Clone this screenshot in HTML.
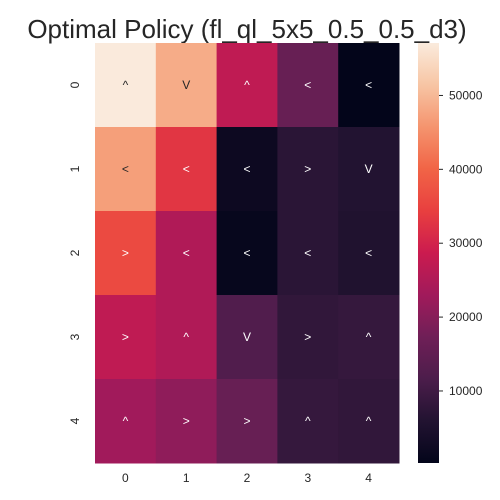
<!DOCTYPE html>
<html><head><meta charset="utf-8"><style>
html,body{margin:0;padding:0;background:#fff;}
svg{display:block;font-family:"Liberation Sans",Arial,sans-serif;}
</style></head><body>
<svg id="chart" width="500" height="500" viewBox="0 0 500 500">
<text x="247" y="38" font-size="26" text-anchor="middle" fill="#262626">Optimal Policy (fl_ql_5x5_0.5_0.5_d3)</text>
<defs><linearGradient id="cbgrad" x1="0" y1="1" x2="0" y2="0"></linearGradient></defs>
<g id="cells"></g>
<g id="xticks"></g>
<g id="yticks"></g>
<rect id="cbar" x="418" y="43" width="21" height="420" fill="url(#cbgrad)"/>
<g id="cbticks"></g>
</svg>
<script>
const rows = ["0","1","2","3","4"];
const cols = ["0","1","2","3","4"];
const values = [
  [57000, 48500, 27000, 16000, 300],
  [47000, 33000, 2000, 7000, 6000],
  [36000, 25000, 1000, 7000, 5500],
  [27000, 25000, 12500, 8000, 8500],
  [23000, 21000, 16000, 8500, 8000]
];
const actions = [
  ["^","V","^","<","<"],
  ["<","<","<",">","V"],
  [">","<","<","<","<"],
  [">","^","V",">","^"],
  ["^",">",">","^","^"]
];
const cbTicks = [10000, 20000, 30000, 40000, 50000];
const vmin = 250, vmax = 57100;

const stops = [
  [0.0,[3,5,26]],[0.1,[34,19,49]],[0.2,[76,29,75]],[0.3,[111,31,87]],
  [0.4,[161,26,91]],[0.5,[203,27,79]],[0.6,[232,63,63]],[0.7,[241,100,70]],
  [0.8,[245,148,110]],[0.9,[247,197,164]],[1.0,[250,235,221]]
];
function cmap(t){
  t=Math.max(0,Math.min(1,t));
  for(let i=1;i<stops.length;i++){
    if(t<=stops[i][0]){
      const a=stops[i-1],b=stops[i],f=(t-a[0])/(b[0]-a[0]);
      return a[1].map((v,k)=>Math.round(v+(b[1][k]-v)*f));
    }
  }
  return stops[stops.length-1][1];
}
const rgb=c=>`rgb(${c[0]},${c[1]},${c[2]})`;
const NS="http://www.w3.org/2000/svg";
const x0=95,x1=399,y0=43,y1=463;
const cw=(x1-x0)/cols.length, ch=(y1-y0)/rows.length;
const xPos=j=>x0+j*cw, yPos=i=>y0+i*ch;
const cbY=v=>463-(v-vmin)/(vmax-vmin)*420;

const grad=document.getElementById('cbgrad');
for(let k=0;k<=20;k++){const s=document.createElementNS(NS,'stop');s.setAttribute('offset',k/20);s.setAttribute('stop-color',rgb(cmap(k/20)));grad.appendChild(s);}

const cg=document.getElementById('cells');
values.forEach((row,i)=>row.forEach((v,j)=>{
  const c=cmap((v-vmin)/(vmax-vmin));
  const r=document.createElementNS(NS,'rect');
  r.setAttribute('x',xPos(j));r.setAttribute('y',yPos(i));
  r.setAttribute('width',cw+0.5);r.setAttribute('height',ch+0.5);
  r.setAttribute('fill',rgb(c));
  
  
  cg.appendChild(r);
  const lum=(0.299*c[0]+0.587*c[1]+0.114*c[2])/255;
  const t=document.createElementNS(NS,'text');
  t.setAttribute('x',xPos(j)+cw/2);t.setAttribute('y',yPos(i)+ch/2+4);
  t.setAttribute('text-anchor','middle');t.setAttribute('font-size','12');
  t.setAttribute('fill',lum>0.6?'#262626':'#ffffff');
  t.textContent=actions[i][j];
  
  
  cg.appendChild(t);
}));
const xg=document.getElementById('xticks');
cols.forEach((c,j)=>{
  const t=document.createElementNS(NS,'text');
  t.setAttribute('x',xPos(j)+cw/2);t.setAttribute('y',482);
  t.setAttribute('text-anchor','middle');t.setAttribute('font-size','12');t.setAttribute('fill','#262626');
  t.textContent=c;
  
  
  xg.appendChild(t);
});
const yg=document.getElementById('yticks');
rows.forEach((r,i)=>{
  const cy=yPos(i)+ch/2, cx=79;
  const t=document.createElementNS(NS,'text');
  t.setAttribute('x',cx);t.setAttribute('y',cy);
  t.setAttribute('text-anchor','middle');t.setAttribute('font-size','12');t.setAttribute('fill','#262626');
  t.setAttribute('transform',`rotate(-90 ${cx} ${cy})`);
  t.textContent=r;
  
  
  yg.appendChild(t);
});
const cb=document.getElementById('cbticks');
cbTicks.forEach(v=>{
  const y=cbY(v);
  const l=document.createElementNS(NS,'line');
  l.setAttribute('x1',439);l.setAttribute('x2',443);l.setAttribute('y1',y);l.setAttribute('y2',y);
  l.setAttribute('stroke','#262626');l.setAttribute('stroke-width','1');
  
  
  cb.appendChild(l);
  const t=document.createElementNS(NS,'text');
  t.setAttribute('x',449);t.setAttribute('y',y+4);t.setAttribute('font-size','12');t.setAttribute('fill','#262626');
  t.textContent=v;
  
  
  cb.appendChild(t);
});
</script>
</body></html>
